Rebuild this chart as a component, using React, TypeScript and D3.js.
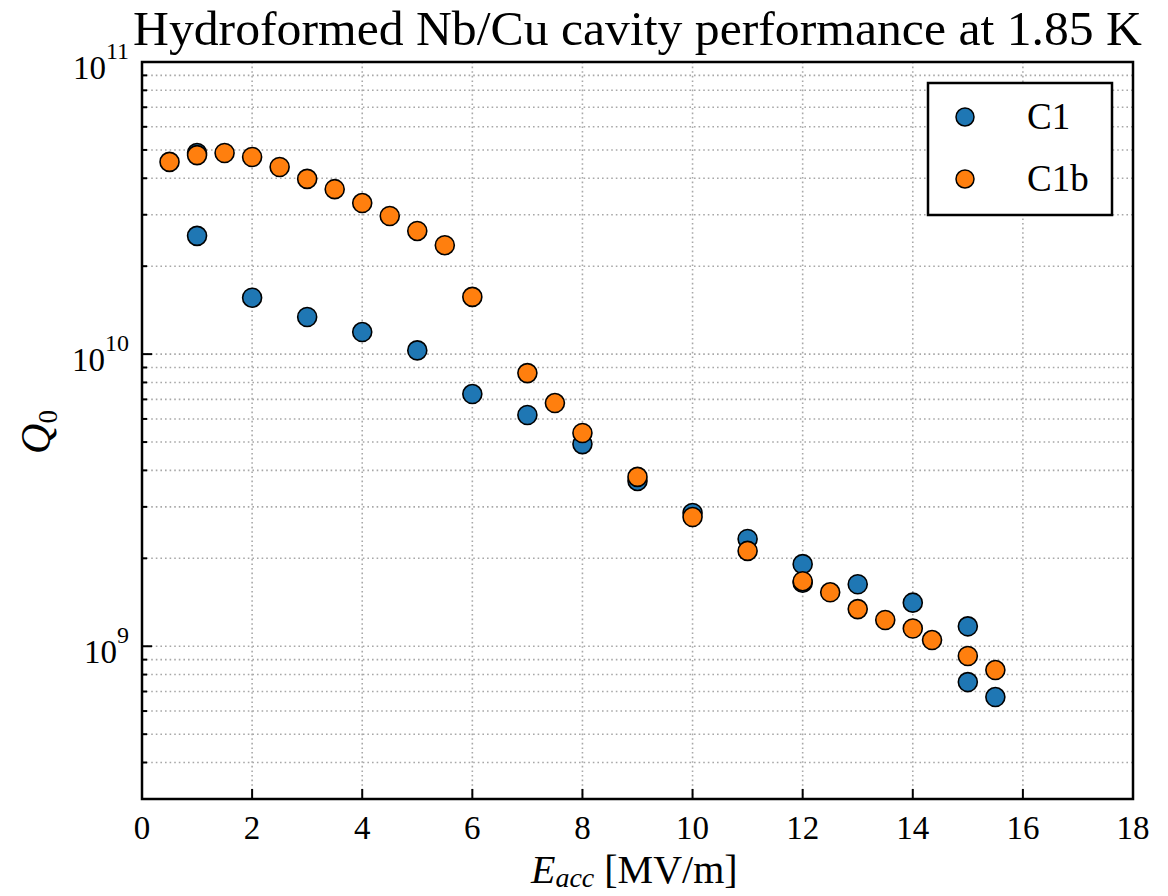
import React from "react";
import * as d3 from "d3";

const c1X = [1, 1, 2, 3, 4, 5, 6, 7, 8, 9, 10, 11, 12, 12, 13, 14, 15, 15, 15.5];
const c1Q = [4.88e10, 2.54e10, 1.56e10, 1.34e10, 1.19e10, 1.03e10, 7.3e9, 6.19e9, 4.92e9, 3.68e9, 2.86e9, 2.33e9, 1.91e9, 1.65e9, 1.63e9, 1.41e9, 1.17e9, 7.54e8, 6.7e8];

const c1bX = [0.5, 1, 1.5, 2, 2.5, 3, 3.5, 4, 4.5, 5, 5.5, 6, 7, 7.5, 8, 9, 10, 11, 12, 12.5, 13, 13.5, 14, 14.35, 15, 15.5];
const c1bQ = [4.55e10, 4.8e10, 4.88e10, 4.73e10, 4.37e10, 3.98e10, 3.67e10, 3.29e10, 2.97e10, 2.64e10, 2.36e10, 1.57e10, 8.61e9, 6.8e9, 5.37e9, 3.8e9, 2.77e9, 2.12e9, 1.67e9, 1.53e9, 1.34e9, 1.23e9, 1.15e9, 1.05e9, 9.26e8, 8.29e8];

const xTicks = [0, 2, 4, 6, 8, 10, 12, 14, 16, 18];
const yMajor = [1e9, 1e10, 1e11];
const yMajorExp = ["9", "10", "11"];
const seriesNames = ["C1", "C1b"];
const seriesColors = ["#1f77b4", "#ff7f0e"];

const W = 1168, H = 896;
const L = 142, R = 1133, T = 62, B = 799;
const FONT = "'Liberation Serif', 'Times New Roman', serif";

export default function App() {
  const x = d3.scaleLinear().domain([0, 18]).range([L, R]);
  const y = d3.scaleLog().domain([3e8, 1e11]).range([B, T]);

  const minor: number[] = [];
  for (const dec of [1e8, 1e9, 1e10]) {
    for (let k = 1; k <= 9; k++) {
      const v = k * dec;
      if (v >= 3e8 && v <= 1e11 && k !== 1) minor.push(v);
    }
  }
  const gridY = [...minor, ...yMajor];
  const series = [
    { name: seriesNames[0], xs: c1X, qs: c1Q, color: seriesColors[0] },
    { name: seriesNames[1], xs: c1bX, qs: c1bQ, color: seriesColors[1] },
  ];

  return (
    <svg width={W} height={H} style={{ position: "absolute", left: 0, top: 0, background: "#fff" }} fontFamily={FONT}>
      <rect x={0} y={0} width={W} height={H} fill="#fff" />
      {/* grid */}
      <g stroke="#a8a8a8" strokeWidth={1.6} strokeDasharray="1.6,3" >
        {gridY.map((v, i) => (
          <line key={"gy" + i} x1={L} x2={R} y1={y(v)} y2={y(v)} />
        ))}
        {xTicks.map((v, i) => (
          <line key={"gx" + i} x1={x(v)} x2={x(v)} y1={T} y2={B} />
        ))}
      </g>
      {/* ticks */}
      <g stroke="#000" strokeWidth={2}>
        {minor.map((v, i) => (
          <line key={"mt" + i} x1={L} x2={L + 5} y1={y(v)} y2={y(v)} />
        ))}
        {yMajor.map((v, i) => (
          <line key={"Mt" + i} x1={L} x2={L + 10} y1={y(v)} y2={y(v)} />
        ))}
        {xTicks.map((v, i) => (
          <line key={"xt" + i} x1={x(v)} x2={x(v)} y1={B} y2={B - 10} />
        ))}
      </g>
      {/* points */}
      {series.map((s) => (
        <g key={s.name}>
          {s.xs.map((xv, i) => (
            <circle key={i} cx={x(xv)} cy={y(s.qs[i])} r={9.5} fill={s.color} stroke="#000" strokeWidth={1.6} />
          ))}
        </g>
      ))}
      {/* frame */}
      <rect x={L} y={T} width={R - L} height={B - T} fill="none" stroke="#000" strokeWidth={2.5} />
      {/* x tick labels */}
      {xTicks.map((v, i) => (
        <text key={"xl" + i} x={x(v)} y={839} fontSize={33} textAnchor="middle" fill="#000">
          {String(v)}
        </text>
      ))}
      {/* y tick labels */}
      {yMajor.map((v, i) => (
        <text key={"yl" + i} x={129} y={y(v) + 17} fontSize={33} textAnchor="end" fill="#000">
          10
          <tspan fontSize={24} dy={-20}>{yMajorExp[i]}</tspan>
        </text>
      ))}
      {/* title */}
      <text x={133} y={45} fontSize={48} textLength={1009} lengthAdjust="spacingAndGlyphs" fill="#000">
        Hydroformed Nb/Cu cavity performance at 1.85 K
      </text>
      {/* x label */}
      <text x={531} y={883} fontSize={40} fill="#000">
        <tspan fontStyle="italic">E</tspan>
        <tspan fontStyle="italic" fontSize={28} dy={4}>acc</tspan>
        <tspan dy={-4}> [MV/m]</tspan>
      </text>
      {/* y label */}
      <text transform={`translate(50, 432) rotate(-90)`} fontSize={42} textAnchor="middle" fill="#000">
        <tspan fontStyle="italic">Q</tspan>
        <tspan fontSize={27} dy={7}>0</tspan>
      </text>
      {/* legend */}
      <rect x={928} y={83} width={184} height={132} fill="#fff" stroke="#000" strokeWidth={2.5} />
      {series.map((s, i) => (
        <g key={"lg" + i}>
          <circle cx={965} cy={117 + i * 62} r={9} fill={s.color} stroke="#000" strokeWidth={1.5} />
          <text x={1027} y={129 + i * 62} fontSize={37} fill="#000">{s.name}</text>
        </g>
      ))}
    </svg>
  );
}
